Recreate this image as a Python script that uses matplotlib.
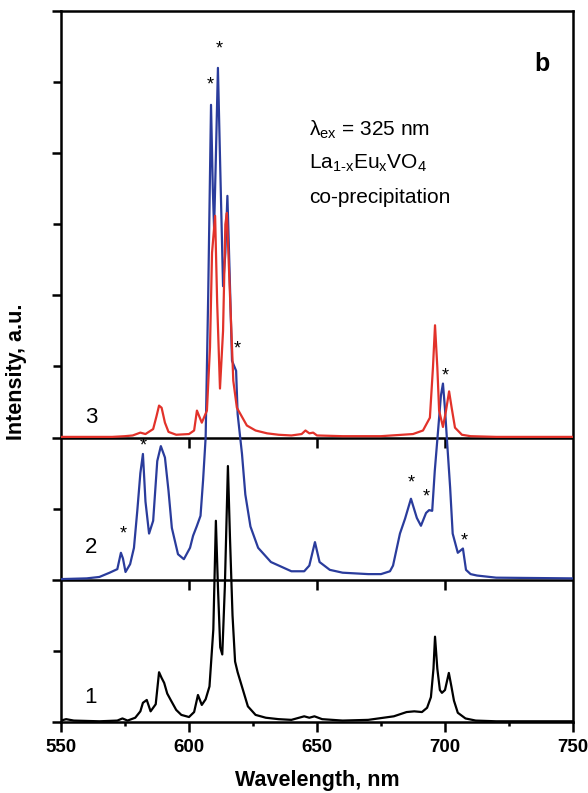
import numpy as np
import matplotlib
matplotlib.use("Agg")
import matplotlib.pyplot as plt
from matplotlib.ticker import MultipleLocator

plt.rcParams['font.family'] = ['Liberation Sans', 'DejaVu Sans']
plt.rcParams['mathtext.fontset'] = 'custom'
plt.rcParams['mathtext.rm'] = 'Liberation Sans'
plt.rcParams['mathtext.it'] = 'Liberation Sans:italic'

# spectrum 1 (black), baseline 0
w1 = [550, 552, 555, 565, 572, 574, 576, 579, 581, 582, 583.5, 585, 587, 588.3, 589.3,
      590.3, 591.5, 593, 595, 597, 600, 602, 603.5, 605, 606.5, 608, 609.5, 610.5, 611.3,
      612.2, 613, 614, 615.2, 616, 617, 618, 619, 620.5, 623, 626, 630, 635, 640, 645,
      647, 649, 652, 660, 670, 680, 685, 688, 691, 693, 694.5, 695.5, 696.1, 697, 698,
      698.8, 700, 701.5, 702.5, 703.5, 705, 708, 712, 720, 750]
i1 = [0.02, 0.04, 0.02, 0.01, 0.02, 0.05, 0.02, 0.06, 0.15, 0.27, 0.31, 0.15, 0.25, 0.70, 0.62,
      0.55, 0.40, 0.30, 0.17, 0.10, 0.07, 0.14, 0.38, 0.24, 0.32, 0.50, 1.3, 2.83, 1.9,
      1.05, 0.95, 1.9, 3.6, 2.6, 1.5, 0.85, 0.7, 0.52, 0.22, 0.1, 0.06, 0.04, 0.03, 0.08,
      0.06, 0.08, 0.04, 0.02, 0.03, 0.08, 0.14, 0.15, 0.14, 0.2, 0.35, 0.75, 1.2, 0.75, 0.45,
      0.41, 0.45, 0.69, 0.5, 0.3, 0.13, 0.05, 0.02, 0.01, 0.01]

# spectrum 2 (blue), baseline 2
w2 = [550, 560, 565, 569, 572, 573.4, 574.2, 575.2, 577, 578.5, 579.8, 581, 582, 583, 584.4,
      586, 587.6, 589, 590.6, 592, 593.3, 595.7, 598, 600.4, 601.6, 603, 604.5, 605.5, 606.5,
      607.5, 608.6, 609.3, 609.8, 610.4, 611.3, 612.2, 613.3, 614.2, 615, 615.8, 616.8,
      618.4, 619, 620.7, 622, 624, 627, 632, 640, 645, 647, 649.2, 651, 655, 660, 670, 675,
      678.5, 679.7, 682.4, 684.4, 686.7, 689, 690.6, 692.6, 693.8, 695, 696, 697.3, 698.4,
      699.2, 700, 700.8, 702, 703, 705, 707, 708.2, 710, 712.5, 720, 750]
i2 = [0.01, 0.02, 0.04, 0.1, 0.15, 0.38, 0.3, 0.11, 0.22, 0.45, 0.97, 1.5, 1.77, 1.1, 0.65,
      0.83, 1.67, 1.88, 1.72, 1.25, 0.73, 0.36, 0.29, 0.45, 0.62, 0.75, 0.9, 1.4, 2.0,
      4.0, 6.68, 5.5, 4.94, 5.8, 7.2, 5.8, 4.13, 4.6, 5.4, 4.4, 3.08,
      2.94, 2.33, 1.77, 1.2, 0.75, 0.45, 0.25, 0.12, 0.12, 0.2, 0.53, 0.25, 0.14, 0.1, 0.08, 0.08,
      0.12, 0.2, 0.65, 0.86, 1.14, 0.87, 0.76, 0.94, 0.98, 0.97, 1.53, 2.1, 2.59,
      2.76, 2.4, 1.95, 1.3, 0.65, 0.38, 0.44, 0.14, 0.08, 0.06, 0.03, 0.02]

# spectrum 3 (red), baseline 4
w3 = [550, 570, 575, 578, 581, 583, 586, 587.3, 588.3, 589.3, 590.6, 592, 595, 600, 602,
      603.1, 605, 607, 608.2, 609, 610.2, 611, 612.1, 613.3, 614.2, 614.8, 615.8, 616.8,
      617.3, 618.7, 622.6, 626, 630.5, 635, 640, 644, 645.5, 647, 648.5, 650, 660, 675,
      687.5, 691.4, 694.1, 695.3, 696.1, 697, 697.7, 699.2, 700.4, 701.6, 702.6, 703.9,
      706.6, 710, 720, 750]
i3 = [0.01, 0.01, 0.02, 0.03, 0.07, 0.05, 0.12, 0.3, 0.45, 0.42, 0.21, 0.08, 0.04, 0.05, 0.1,
      0.38, 0.21, 0.38, 1.27, 2.6, 3.12, 1.9, 0.69, 1.5, 3.0, 3.16, 2.2, 1.27,
      0.8, 0.42, 0.17, 0.1, 0.06, 0.04, 0.03, 0.05, 0.1, 0.06, 0.07, 0.03, 0.02, 0.02,
      0.05, 0.1, 0.28, 0.99, 1.58, 0.99, 0.38, 0.15, 0.38, 0.65, 0.42, 0.14,
      0.04, 0.02, 0.01, 0.01]

offsets = [0, 2, 4]
labels = ["1", "2", "3"]
label_y = [0.34, 2.45, 4.28]

star_x = [574.2, 582, 608.2, 611.7, 619, 686.7, 692.6, 700, 707.4]
star_y = [2.65, 3.88, 8.96, 9.46, 5.25, 3.36, 3.16, 4.87, 2.55]

fig = plt.figure(figsize=(5.88, 7.93), dpi=100)
ax = fig.add_axes([61/588, 71/793, 512/588, 711/793])

ax.plot(w2, np.array(i2) + offsets[1], color='#2a3c9c', lw=1.6, zorder=3)
ax.plot(w1, np.array(i1) + offsets[0], color='black', lw=1.6, zorder=3)
ax.plot(w3, np.array(i3) + offsets[2], color='#e2322a', lw=1.6, zorder=4)

# inner baselines with their own ticks
for b in offsets[1:]:
    ax.axhline(b, color='black', lw=1.8, zorder=2)
    ax.plot([600, 650, 700], [b] * 3, ls='none', marker=3, ms=7, mew=1.8, color='black',
            clip_on=False, zorder=2)

for lab, ly in zip(labels, label_y):
    ax.text(561.7, ly, lab, fontsize=16, ha='center', va='center')

for sx, sy in zip(star_x, star_y):
    ax.text(sx, sy, '*', fontsize=13, ha='center', va='center')

fig.text(309 / 588, 1 - 136 / 793, 'λ$_{\\mathrm{ex}}$ = 325 nm', fontsize=15, va='baseline')
fig.text(309 / 588, 1 - 169 / 793, r'La$_{\mathrm{1\text{-}x}}$Eu$_{\mathrm{x}}$VO$_{\mathrm{4}}$',
         fontsize=15, va='baseline')
fig.text(309 / 588, 1 - 203 / 793, 'co-precipitation', fontsize=15, va='baseline')
fig.text(542 / 588, 1 - 71 / 793, 'b', fontsize=18, fontweight='bold', ha='center', va='baseline')

ax.set_xlim(550, 750)
ax.set_ylim(0, 10)
ax.xaxis.set_major_locator(MultipleLocator(50))
ax.xaxis.set_minor_locator(MultipleLocator(25))
ax.yaxis.set_major_locator(MultipleLocator(2))
ax.yaxis.set_minor_locator(MultipleLocator(1))
ax.set_yticklabels([])
for lbl in ax.get_xticklabels():
    lbl.set_fontweight('bold')
ax.tick_params(axis='x', which='major', length=7, width=1.8, labelsize=13.5, pad=5)
ax.tick_params(axis='x', which='minor', length=3, width=1.8)
ax.tick_params(axis='y', which='major', length=6.5, width=1.8)
ax.tick_params(axis='y', which='minor', length=5.5, width=1.8)
for s in ax.spines.values():
    s.set_linewidth(1.8)

ax.set_xlabel('Wavelength, nm', fontsize=15.5, fontweight='bold')
ax.xaxis.set_label_coords(0.5, -0.068)
ax.set_ylabel('Intensity, a.u.', fontsize=15.5, fontweight='bold')
ax.yaxis.set_label_coords(-0.066, 0.492)

fig.savefig('out.png', dpi=100)
